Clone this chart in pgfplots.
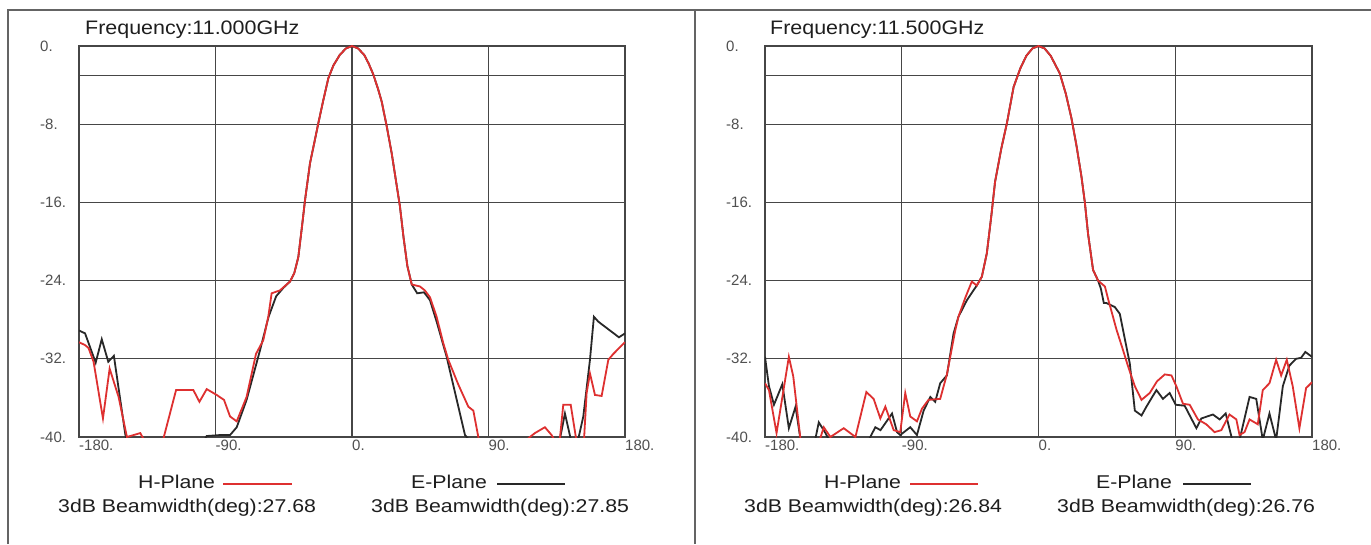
\documentclass[border=0pt]{standalone}
\usepackage{graphicx}
\usepackage{pgfplots}
\pgfplotsset{compat=1.18}
\usepackage{fontspec}
\setmainfont{Liberation Sans}

\definecolor{gridc}{RGB}{70,70,70}
\definecolor{framec}{RGB}{100,100,100}
\definecolor{tickc}{RGB}{80,80,80}
\definecolor{txtc}{RGB}{30,30,30}
\definecolor{hred}{RGB}{222,48,48}
\definecolor{eblk}{RGB}{40,40,40}

\pgfplotsset{
  patt/.style={
    scale only axis, width=546pt, height=391pt, anchor=south west,
    xmin=-180, xmax=180, ymin=-40, ymax=0,
    xtick={-180,-90,0,90,180}, xticklabels={-180.,-90.,0.,90.,180.},
    ytick={-40,-32,-24,-16,-8,0}, yticklabels={-40.,-32.,-24.,-16.,-8.,0.},
    extra y ticks={-3}, extra y tick labels={},
    extra y tick style={grid=major, major tick length=0pt},
    grid=major, major grid style={gridc, line width=1.3pt},
    axis line style={gridc, line width=1.5pt},
    major tick length=0pt,
    tick label style={font=\fontsize{15}{15}\selectfont, text=tickc, inner sep=0pt},
    xticklabel style={anchor=north west, yshift=-3pt},
    yticklabel style={anchor=west, xshift=-39pt},
    clip=true,
  },
  hp/.style={hred, line width=1.8pt},
  ep/.style={eblk, line width=1.8pt},
}

\newcommand{\lab}[1]{\scalebox{1.15}[1]{\fontsize{18.5}{20}\selectfont #1}}

\begin{document}
\begin{tikzpicture}
\fill[white] (0pt,0pt) rectangle (1371pt,544pt);
\path[use as bounding box] (0pt,0pt) rectangle (1371pt,544pt);

% frame
\draw[framec, line width=1.8pt] (8pt,0pt) -- (8pt,534pt) -- (1371pt,534pt);
\draw[framec, line width=1.8pt] (695pt,0pt) -- (695pt,534pt);

% ---------- 11.000 GHz ----------
\begin{axis}[patt, at={(79pt,107pt)}]
% E-Plane
\addplot[ep] coordinates {
(-180,-29.1) (-176,-29.4) (-169,-32.4) (-165,-30.0) (-160.7,-32.3) (-157,-31.7)
(-149.6,-39.6) (-148,-41) (-100,-41) (-95.8,-39.9) (-87,-39.8) (-80.4,-39.8)
(-76,-39.0) (-69.5,-36.2) (-60.6,-31.1) (-55,-27.7) (-50,-25.6) (-45,-24.7)
(-40.9,-24.1) (-38,-23.2) (-35.4,-21.6) (-33,-18.5) (-31,-15.8) (-27.7,-12.0)
(-25,-10.0) (-22.2,-7.9) (-19,-5.6) (-15.6,-3.3) (-12.3,-2.0) (-8,-0.9) (-4,-0.25)
(0,0) (4,-0.25) (8,-0.9) (11,-1.8) (14,-2.9) (17,-4.3) (19.6,-5.7) (23,-8.3)
(26.2,-11.0) (29,-13.8) (31.6,-16.4) (34,-19.6) (36.5,-22.5) (39.4,-24.4)
(43,-25.3) (47.5,-25.2) (51.4,-26.0) (56,-28.3) (62.4,-31.8) (68,-35.5)
(74.5,-39.8) (76.7,-40.2) (83.3,-40.2) (85,-41) (134,-41) (137.1,-40.2)
(140.4,-37.6) (144.2,-40.2) (149.2,-40.2) (152.5,-37.9) (156.9,-32.1) (159.5,-27.7)
(162.4,-28.2) (176,-29.8) (180,-29.4)
};
% H-Plane
\addplot[hp] coordinates {
(-180,-30.3) (-176,-30.6) (-173.7,-30.9) (-170.4,-32.3) (-164.2,-38.1) (-159.8,-33.0)
(-153.9,-35.9) (-148.4,-40.0) (-144,-39.8) (-139.6,-39.6) (-136.4,-40.5) (-130,-41)
(-124.4,-40.2) (-116,-35.2) (-104.6,-35.2) (-100.6,-36.4) (-95.8,-35.1) (-89.2,-35.7)
(-84.4,-36.2) (-80.4,-37.9) (-76,-38.4) (-69.5,-35.9) (-63.3,-31.5) (-58.5,-30.1)
(-55.2,-27.7) (-53,-25.3) (-47.5,-25.0) (-40.9,-24.1) (-38,-23.2) (-35.4,-21.6)
(-33,-18.5) (-31,-15.8) (-27.7,-12.0) (-25,-10.0) (-22.2,-7.9) (-19,-5.6) (-15.6,-3.3)
(-12.3,-2.0) (-8,-0.9) (-4,-0.25) (0,0) (4,-0.25) (8,-0.9) (11,-1.8) (14,-2.9)
(17,-4.3) (19.6,-5.7) (23,-8.3) (26.2,-11.0) (29,-13.8) (31.6,-16.4) (34,-19.6)
(36.5,-22.5) (39.4,-24.4) (44.8,-24.6) (48,-25.0) (51.4,-25.7) (55.8,-27.7)
(60,-30.3) (63.5,-32.1) (70,-34.6) (76.7,-36.9) (80,-37.3) (83.9,-40.5) (90,-41)
(110,-41) (117.3,-40.0) (120.6,-39.6) (127.2,-39.0) (131.6,-39.8) (134,-40.5)
(137,-40.3) (139.3,-36.7) (144.2,-36.7) (148.1,-40.5) (152.9,-40.5) (154.7,-35.5)
(156.9,-33.5) (160.2,-35.7) (164.6,-35.8) (169,-32.1) (172.3,-31.5) (180,-30.3)
};
\end{axis}

% ---------- 11.500 GHz ----------
\begin{axis}[patt, at={(765pt,107pt)}, width=547pt]
% E-Plane
\addplot[ep] coordinates {
(-180,-31.8) (-177.4,-34.8) (-174.1,-36.7) (-168.6,-34.6) (-164.3,-39.1) (-159.9,-36.9)
(-156.6,-40.3) (-150,-41) (-147,-40.3) (-144.6,-38.5) (-140.2,-39.6) (-138,-40.3)
(-125,-41) (-111.7,-40.3) (-107.4,-39.0) (-104,-39.3) (-96.4,-37.6) (-93.1,-39.5)
(-91,-39.8) (-84.4,-39.0) (-80,-39.8) (-75.6,-37.3) (-71.2,-35.9) (-68,-36.4)
(-64.7,-34.5) (-60.3,-33.7) (-55.9,-29.4) (-52.7,-27.7) (-47.1,-26.0) (-42.8,-25.0)
(-40.6,-24.5) (-37.3,-23.6) (-34,-21.2) (-31,-17.3) (-28.6,-13.9) (-24.5,-10.5)
(-20.8,-7.9) (-16.4,-4.2) (-12,-2.3) (-8,-1.0) (-4,-0.25) (0,0) (4,-0.25) (8,-1.0)
(11,-1.9) (14,-2.8) (18,-4.9) (21.7,-7.4) (25,-10.2) (28.3,-13.4) (30.5,-16.0)
(32.6,-19.2) (35.9,-22.9) (39.2,-24.0) (41,-24.8) (43,-26.3) (44.7,-26.3)
(50.2,-26.7) (53.5,-27.4) (60.1,-32.5) (63.4,-37.3) (67.8,-37.8) (71,-36.9)
(77.6,-35.2) (81.9,-36.1) (86.3,-35.5) (90.3,-36.7) (96.2,-36.8) (103.9,-39.1)
(107.2,-38.1) (114.8,-37.7) (119.2,-38.2) (123.2,-37.6) (127.5,-40.3) (132.3,-40.3)
(138.9,-35.9) (143.3,-36.1) (147.6,-40.3) (152,-37.6) (156.4,-40.3) (160.8,-34.8)
(165.1,-32.7) (169.5,-32.0) (172.8,-31.9) (175.6,-31.3) (180,-31.8)
};
% H-Plane
\addplot[hp] coordinates {
(-180,-34.5) (-177.4,-35.2) (-172.4,-39.6) (-164.3,-31.8) (-161.4,-33.8) (-156.6,-40.3)
(-150,-41) (-144,-40.3) (-141.3,-39.0) (-137,-40.0) (-128.2,-39.1) (-120.5,-40.0)
(-113.3,-35.4) (-108.5,-36.1) (-104.1,-38.1) (-100.8,-36.9) (-95.3,-39.3) (-91,-39.5)
(-87.7,-35.5) (-84.4,-37.9) (-80,-38.4) (-76.7,-37.1) (-72.4,-36.2) (-64.7,-36.1)
(-60.3,-33.6) (-58.1,-31.8) (-54.8,-29.1) (-52.7,-27.7) (-48.3,-25.8) (-43.9,-24.1)
(-40.6,-24.5) (-37.3,-23.6) (-34,-21.2) (-31,-17.3) (-28.6,-13.9) (-24.5,-10.5)
(-20.8,-7.9) (-16.4,-4.2) (-12,-2.3) (-8,-1.0) (-4,-0.25) (0,0) (4,-0.25) (8,-1.0)
(11,-1.9) (14,-2.8) (18,-4.9) (21.7,-7.4) (25,-10.2) (28.3,-13.4) (30.5,-16.0)
(32.6,-19.2) (35.9,-22.9) (39.2,-24.0) (43.7,-24.6) (46,-26.0) (48.5,-27.4)
(51.3,-29.0) (55,-30.8) (59,-32.8) (63.4,-34.8) (67.8,-36.2) (73.2,-35.5)
(78,-34.3) (83.1,-33.6) (87.5,-33.7) (90.7,-34.8) (95.1,-36.6) (99.5,-36.7)
(104.9,-38.2) (110.4,-38.7) (115.9,-39.5) (120.3,-39.3) (125.7,-37.7) (130.2,-38.2)
(132.3,-39.8) (135.6,-39.5) (138.9,-38.2) (144.3,-38.7) (147.6,-35.2) (152,-34.5)
(156.4,-32.1) (159.7,-33.7) (163.4,-32.1) (167.3,-34.8) (171.7,-39.1) (176.1,-35.0)
(180,-34.4)
};
\end{axis}

% titles
\node[anchor=west, inner sep=0pt, text=txtc] at (85pt,514pt)
  {\scalebox{1.1}[1]{\fontsize{19.5}{21}\selectfont Frequency:11.000GHz}};
\node[anchor=west, inner sep=0pt, text=txtc] at (770pt,514pt)
  {\scalebox{1.1}[1]{\fontsize{19.5}{21}\selectfont Frequency:11.500GHz}};

% legends, left panel
\node[anchor=west, inner sep=0pt, text=txtc] at (138pt,62pt) {\lab{H-Plane}};
\draw[hred, line width=2.4pt] (223pt,60pt) -- (292pt,60pt);
\node[anchor=west, inner sep=0pt, text=txtc] at (411pt,62pt) {\lab{E-Plane}};
\draw[eblk, line width=2.4pt] (497pt,60pt) -- (565pt,60pt);
\node[anchor=west, inner sep=0pt, text=txtc] at (58pt,36pt) {\lab{3dB Beamwidth(deg):27.68}};
\node[anchor=west, inner sep=0pt, text=txtc] at (371pt,36pt) {\lab{3dB Beamwidth(deg):27.85}};

% legends, right panel
\node[anchor=west, inner sep=0pt, text=txtc] at (824pt,62pt) {\lab{H-Plane}};
\draw[hred, line width=2.4pt] (910pt,60pt) -- (978pt,60pt);
\node[anchor=west, inner sep=0pt, text=txtc] at (1096pt,62pt) {\lab{E-Plane}};
\draw[eblk, line width=2.4pt] (1183pt,60pt) -- (1251pt,60pt);
\node[anchor=west, inner sep=0pt, text=txtc] at (744pt,36pt) {\lab{3dB Beamwidth(deg):26.84}};
\node[anchor=west, inner sep=0pt, text=txtc] at (1057pt,36pt) {\lab{3dB Beamwidth(deg):26.76}};
\end{tikzpicture}
\end{document}
